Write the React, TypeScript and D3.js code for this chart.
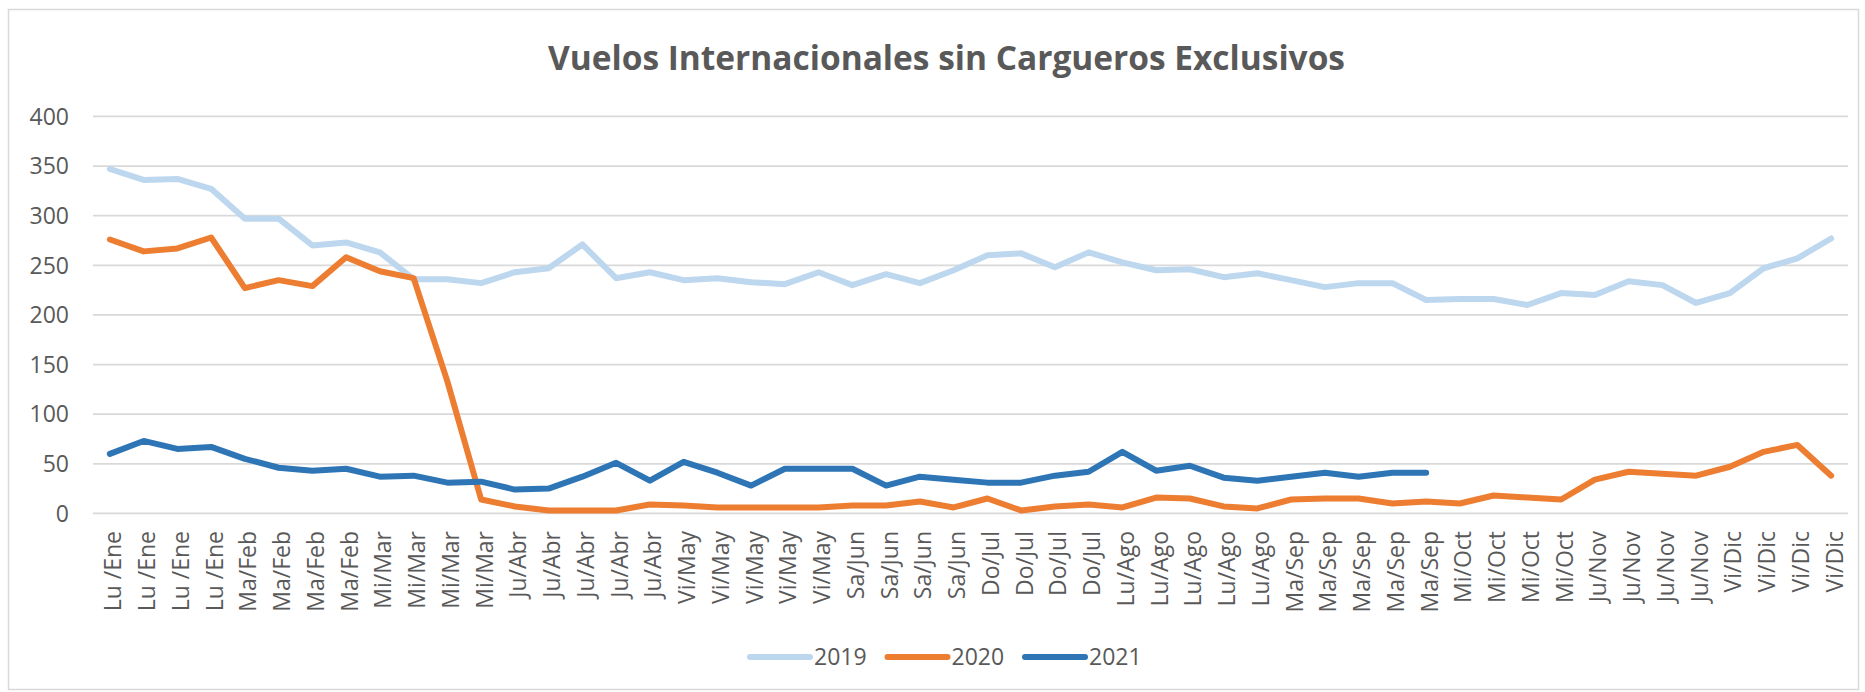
import React from "react";
import * as d3 from "d3";

const categories: string[] = [
  "Lu /Ene", "Lu /Ene", "Lu /Ene", "Lu /Ene",
  "Ma/Feb", "Ma/Feb", "Ma/Feb", "Ma/Feb",
  "Mi/Mar", "Mi/Mar", "Mi/Mar", "Mi/Mar",
  "Ju/Abr", "Ju/Abr", "Ju/Abr", "Ju/Abr", "Ju/Abr",
  "Vi/May", "Vi/May", "Vi/May", "Vi/May", "Vi/May",
  "Sa/Jun", "Sa/Jun", "Sa/Jun", "Sa/Jun",
  "Do/Jul", "Do/Jul", "Do/Jul", "Do/Jul",
  "Lu/Ago", "Lu/Ago", "Lu/Ago", "Lu/Ago", "Lu/Ago",
  "Ma/Sep", "Ma/Sep", "Ma/Sep", "Ma/Sep", "Ma/Sep",
  "Mi/Oct", "Mi/Oct", "Mi/Oct", "Mi/Oct",
  "Ju/Nov", "Ju/Nov", "Ju/Nov", "Ju/Nov",
  "Vi/Dic", "Vi/Dic", "Vi/Dic", "Vi/Dic",
];

const values2019: number[] = [
  347, 336, 337, 327, 297, 297, 270, 273, 263, 236, 236, 232,
  243, 247, 271, 237, 243, 235, 237, 233, 231, 243, 230, 241,
  232, 245, 260, 262, 248, 263, 253, 245, 246, 238, 242, 235,
  228, 232, 232, 215, 216, 216, 210, 222, 220, 234, 230, 212,
  222, 247, 257, 277,
];

const values2020: number[] = [
  276, 264, 267, 278, 227, 235, 229, 258, 244, 237, 133, 14,
  7, 3, 3, 3, 9, 8, 6, 6, 6, 6, 8, 8,
  12, 6, 15, 3, 7, 9, 6, 16, 15, 7, 5, 14,
  15, 15, 10, 12, 10, 18, 16, 14, 34, 42, 40, 38,
  47, 62, 69, 38,
];

const values2021: (number | null)[] = [
  60, 73, 65, 67, 55, 46, 43, 45, 37, 38, 31, 32,
  24, 25, 37, 51, 33, 52, 41, 28, 45, 45, 45, 28,
  37, 34, 31, 31, 38, 42, 62, 43, 48, 36, 33, 37,
  41, 37, 41, 41, null, null, null, null, null, null, null, null,
  null, null, null, null,
];

const yTicks: number[] = [0, 50, 100, 150, 200, 250, 300, 350, 400];

const seriesNames: string[] = ["2019", "2020", "2021"];
const seriesColors: string[] = ["#BDD7EE", "#ED7D31", "#2E75B6"];

const title = "Vuelos Internacionales sin Cargueros Exclusivos";

export default function App() {
  const W = 1865;
  const H = 692;
  const font = "'Open Sans', 'Noto Sans', sans-serif";
  const textColor = "#595959";

  const idx = categories.map((_, i) => i);
  const x = d3.scalePoint<number>().domain(idx).range([93, 1848]).padding(0.5);
  const y = d3.scaleLinear().domain([0, 400]).range([513.4, 116.4]);

  const series = [values2019, values2020, values2021];

  const line = d3
    .line<number | null>()
    .defined((d) => d !== null && d !== undefined)
    .x((_, i) => x(i) as number)
    .y((d) => y(d as number));

  return (
    <svg
      width={W}
      height={H}
      style={{ position: "absolute", left: 0, top: 0, background: "#fff" }}
    >
      <rect x={8.5} y={9.5} width={1850} height={680} fill="#fff" stroke="#d9d9d9" strokeWidth={1.5} />
      <text
        x={946.5}
        y={70}
        textAnchor="middle"
        fontFamily={font}
        fontWeight={700}
        fontSize={34}
        fill={textColor}
        textLength={797}
        lengthAdjust="spacingAndGlyphs"
      >
        {title}
      </text>

      {yTicks.map((t) => (
        <g key={t}>
          <line x1={93} x2={1848} y1={y(t)} y2={y(t)} stroke="#d9d9d9" strokeWidth={1.8} />
          <text
            x={69}
            y={y(t)}
            dy="0.36em"
            textAnchor="end"
            fontFamily={font}
            fontSize={23}
            fill={textColor}
          >
            {t}
          </text>
        </g>
      ))}

      {categories.map((c, i) => (
        <text
          key={i}
          transform={`translate(${(x(i) as number) + 11.5},531) rotate(-90)`}
          textAnchor="end"
          fontFamily={font}
          fontSize={23}
          fill={textColor}
        >
          {c}
        </text>
      ))}

      {series.map((s, k) => (
        <path
          key={k}
          d={line(s as (number | null)[]) || ""}
          fill="none"
          stroke={seriesColors[k]}
          strokeWidth={6}
          strokeLinejoin="round"
          strokeLinecap="round"
        />
      ))}

      {seriesNames.map((n, k) => {
        const x0 = 750 + 137.5 * k;
        return (
          <g key={n}>
            <line x1={x0} x2={x0 + 60} y1={657} y2={657} stroke={seriesColors[k]} strokeWidth={6} strokeLinecap="round" />
            <text x={x0 + 64} y={665} fontFamily={font} fontSize={23} fill={textColor}>
              {n}
            </text>
          </g>
        );
      })}
    </svg>
  );
}
